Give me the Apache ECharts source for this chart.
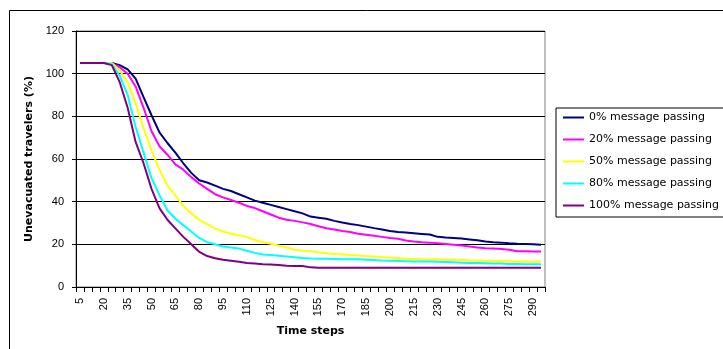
<!DOCTYPE html>
<html>
<head>
<meta charset="utf-8">
<script src="https://cdn.jsdelivr.net/npm/echarts@6/dist/echarts.min.js"></script>
<style>
html,body{margin:0;padding:0;background:#fff;}
#c{width:723px;height:349px;}
</style>
</head>
<body>
<div id="c"></div>
<script>
// Time steps 5..295
var timeSteps = [];
for (var t = 5; t <= 295; t += 5) timeSteps.push(String(t));

var seriesNames = ['0% message passing','20% message passing','50% message passing','80% message passing','100% message passing'];

var mp0 = [105,105,105,105,105,104,102,97.7,89,80.5,72.5,67.5,63,58,53.5,50,49,47.5,46,45,43.5,42,40.5,39.5,38.5,37.5,36.5,35.5,34.5,33,32.5,32,31,30.2,29.5,29,28.3,27.6,27,26.3,25.8,25.5,25.2,24.9,24.6,23.5,23.2,23,22.7,22.3,21.9,21.3,21,20.8,20.5,20.3,20.2,20,19.8];
var mp20 = [105,105,105,105,104.8,103,100,94,84,73,66,62,57.5,55,51.5,48.5,46,43.5,42,40.8,39.5,38,37,35.5,34,32.5,31.5,31,30.3,29.5,28.5,27.5,27,26.3,25.8,25,24.5,24,23.5,23,22.6,21.8,21.3,21,20.8,20.5,20.2,19.8,19.4,19,18.5,18.2,18,17.8,17.5,16.8,16.7,16.6,16.6];
var mp50 = [105,105,105,105,105,101.5,96,86,74.5,64,55,47.5,43,38,34.5,31.5,29.5,27.5,26,25,24.3,23.5,22,21,20.3,19.5,18.5,17.5,17,16.8,16.3,15.8,15.5,15.3,15,14.8,14.5,14.3,14,13.8,13.6,13.3,13.2,13,13,13,12.9,12.8,12.7,12.5,12.4,12.3,12.2,12.2,12.1,12,12,12,12];
var mp80 = [105,105,105,105,104.5,99,90,75,63,51,43,36,32,29,26,23,21,20,19,18.5,18,17,16,15.2,15,14.6,14.3,14,13.6,13.4,13.3,13.2,13.1,13,13,13,12.8,12.6,12.4,12.3,12.2,12.1,12,12,12,11.8,11.7,11.6,11.4,11.3,11.2,11.1,11,11,10.8,10.8,10.7,10.7,10.7];
var mp100 = [105,105,105,105,104,96,84,68,58,46,37,31.5,27.5,23.5,20,16.5,14.5,13.5,12.8,12.3,11.8,11.3,11,10.7,10.5,10.3,10,9.9,9.8,9.2,9,9,9,9,9,9,9,9,9,9,9,9,9,9,9,9,9,9,9,9,9,9,9,9,9,9,9,9,9];

var yTicks = [0,20,40,60,80,100,120];
var colors = ['#000080','#FF00FF','#FFFF00','#00FFFF','#800080'];
var allData = [mp0, mp20, mp50, mp80, mp100];

var font = '"Liberation Sans", Arial, sans-serif';
var wideFont = '"DejaVu Sans", sans-serif';
var chart = echarts.init(document.getElementById('c'), null, {renderer:'canvas'});

var series = seriesNames.map(function(n, i){
  return {
    name: n, type: 'line', data: allData[i], symbol: 'none', showSymbol: false, smooth: false,
    lineStyle: {color: colors[i], width: 2}, itemStyle: {color: colors[i]},
    animation: false, z: 3 + i
  };
});

chart.setOption({
  animation: false,
  backgroundColor: '#fff',
  textStyle: {fontFamily: font},
  graphic: [{
    type: 'rect', silent: true, z: 0,
    shape: {x: 9.5, y: 10.5, width: 900, height: 600},
    style: {fill: 'none', stroke: '#000', lineWidth: 1}
  }],
  grid: {left: 76, top: 31, right: 178, bottom: 62, show: true, borderColor: '#808080', borderWidth: 1, backgroundColor: '#fff'},
  legend: {
    orient: 'vertical', left: 556, top: 108,
    data: seriesNames,
    itemWidth: 21, itemHeight: 10, itemGap: 11,
    padding: [4, 10, 6, 6],
    borderColor: '#000', borderWidth: 1, backgroundColor: '#fff',
    itemStyle: {opacity: 0},
    lineStyle: {width: 2},
    textStyle: {fontFamily: wideFont, fontSize: 11, color: '#000'},
    selectedMode: false
  },
  xAxis: {
    type: 'category', data: timeSteps, boundaryGap: true,
    name: 'Time steps', nameLocation: 'middle', nameGap: 39,
    nameTextStyle: {fontFamily: wideFont, fontSize: 11, fontWeight: 'bold', color: '#000'},
    axisLine: {show: true, lineStyle: {color: '#000', width: 1}},
    axisTick: {show: true, interval: 0, length: 5, inside: false, alignWithLabel: false, lineStyle: {color: '#000'}},
    axisLabel: {interval: 2, rotate: 90, margin: 11, fontFamily: font, fontSize: 11, color: '#000'},
    splitLine: {show: false}
  },
  yAxis: {
    type: 'value', min: yTicks[0], max: yTicks[yTicks.length-1], interval: 20,
    name: 'Unevacuated travelers (%)', nameLocation: 'middle', nameGap: 36, nameRotate: 90,
    nameTextStyle: {fontFamily: wideFont, fontSize: 11, fontWeight: 'bold', color: '#000'},
    axisLine: {show: true, lineStyle: {color: '#000', width: 1}},
    axisTick: {show: true, length: 4, lineStyle: {color: '#000'}},
    axisLabel: {margin: 12, fontFamily: font, fontSize: 11, color: '#000'},
    splitLine: {show: true, lineStyle: {color: '#000', width: 1}}
  },
  series: series
});
</script>
</body>
</html>
